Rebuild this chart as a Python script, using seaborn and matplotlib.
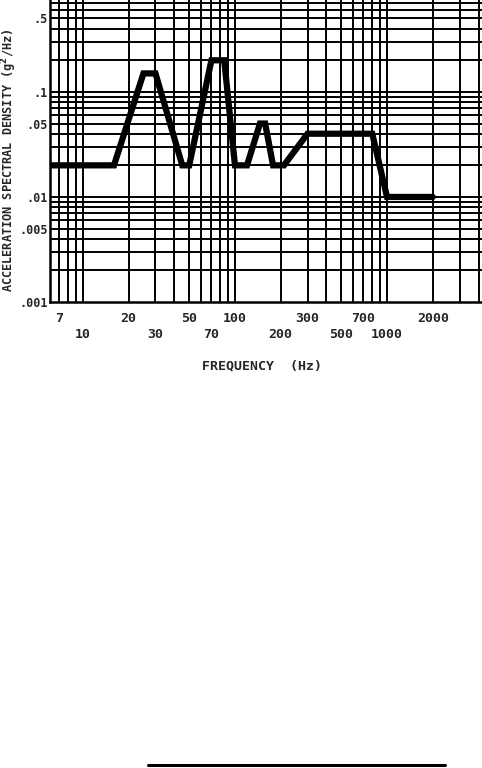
import numpy as np
import pandas as pd
import matplotlib
matplotlib.use("Agg")
import matplotlib.pyplot as plt
from matplotlib.lines import Line2D
import seaborn as sns

# breakpoints of the PSD profile
freq = [6, 16, 25, 30, 45, 50, 70, 85, 100, 120, 146, 158, 178, 210, 300, 800, 1000, 2000]
psd = [0.02, 0.02, 0.15, 0.15, 0.02, 0.02, 0.2, 0.2, 0.02, 0.02, 0.05, 0.05,
       0.02, 0.02, 0.04, 0.04, 0.01, 0.01]

x_row1 = [7, 20, 50, 100, 300, 700, 2000]
x_row2 = [10, 30, 70, 200, 500, 1000]
y_ticks = [0.001, 0.005, 0.01, 0.05, 0.1, 0.5]
y_labels = [".001", ".005", ".01", ".05", ".1", ".5"]

sns.set_style("white")
plt.rcParams['font.family'] = ['DejaVu Sans Mono', 'DejaVu Sans']
plt.rcParams['font.weight'] = 'bold'

df = pd.DataFrame({"freq": freq, "psd": psd})

fig = plt.figure(figsize=(4.82, 7.68), dpi=100)
ax = fig.add_axes([50 / 482, 1 - 302 / 768, 1 - 50 / 482, 302 / 768])

xlim = (6.07, 4217)
ylim = (0.001, 0.75)
ax.set_xscale("log")
ax.set_yscale("log")
ax.set_xlim(*xlim)
ax.set_ylim(*ylim)

# log grid lines: 1..9 per decade
xgrid = [m * 10.0 ** e for e in range(0, 4) for m in range(1, 10)]
xgrid = [v for v in xgrid if xlim[0] < v < xlim[1]]
ygrid = [m * 10.0 ** e for e in range(-3, 0) for m in range(1, 10)]
ygrid = [v for v in ygrid if ylim[0] < v < ylim[1]]
ax.vlines(xgrid, 0, 1, transform=ax.get_xaxis_transform(), color="black", lw=1.4, zorder=1)
ax.hlines(ygrid, 0, 1, transform=ax.get_yaxis_transform(), color="black", lw=1.4, zorder=1)

sns.lineplot(data=df, x="freq", y="psd", ax=ax, color="black", lw=4.5,
             sort=False, estimator=None, zorder=3)
ax.lines[-1].set_solid_joinstyle("miter")

ax.set_xticks(x_row1, [str(v) for v in x_row1])
ax.set_xticks(x_row2, [str(v) for v in x_row2], minor=True)
ax.set_yticks(y_ticks, y_labels)
ax.yaxis.set_minor_locator(matplotlib.ticker.NullLocator())
ax.tick_params(axis="x", which="major", length=0, pad=7, labelsize=9.5)
ax.tick_params(axis="x", which="minor", length=0, pad=19, labelsize=9.5)
ax.tick_params(axis="y", length=0, pad=1.5, labelsize=8.5)
for lab in ax.get_xticklabels(which="both") + ax.get_yticklabels():
    lab.set_fontweight("bold")

for s in ["top", "right"]:
    ax.spines[s].set_visible(False)
for s in ["left", "bottom"]:
    ax.spines[s].set_linewidth(1.8)
    ax.spines[s].set_color("black")

ax.set_xlabel("FREQUENCY  (Hz)", fontsize=9.5, fontweight="bold")
ax.set_ylabel("ACCELERATION SPECTRAL DENSITY (g$^\\mathbf{2}$/Hz)", fontsize=8.6,
              fontweight="bold")
ax.xaxis.set_label_coords((262 - 50) / 432, -(359 - 302) / 302)
ax.yaxis.set_label_coords(-(50 - 19.5) / 432, (302 - 160) / 302)

# signature line at the foot of the page
fig.add_artist(Line2D([148 / 482, 445 / 482], [1 - 765 / 768] * 2, color="black", lw=2.2,
                      transform=fig.transFigure))

fig.savefig("out.png", dpi=100)
